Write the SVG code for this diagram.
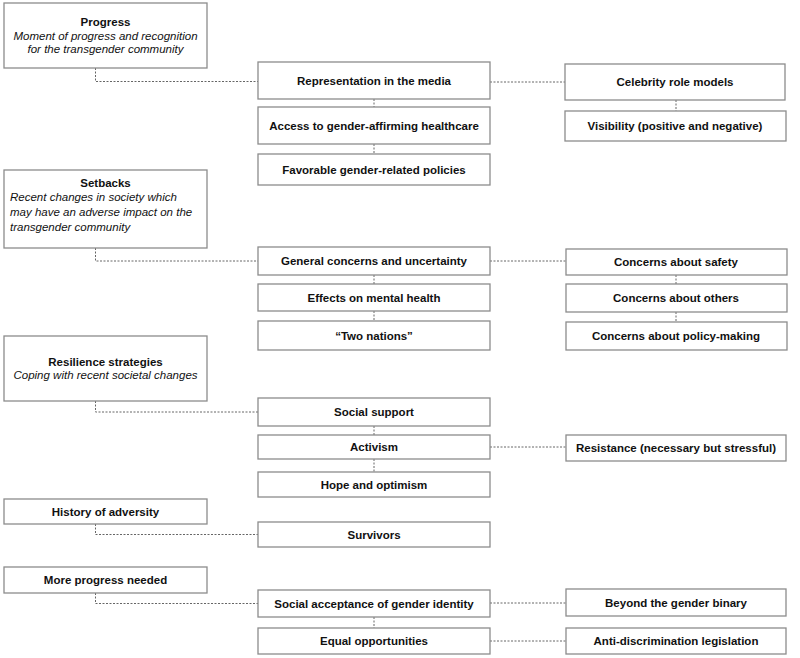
<svg xmlns="http://www.w3.org/2000/svg" width="800" height="658" viewBox="0 0 800 658">
<style>
.box{fill:#fff;stroke:#8c8c8c;stroke-width:1.3}
.t{font-family:"Liberation Sans",Arial,sans-serif;font-size:11.5px;font-weight:bold;fill:#111;text-anchor:middle}
.i{font-family:"Liberation Sans",Arial,sans-serif;font-size:11.5px;font-style:italic;fill:#111;text-anchor:middle}
.il{text-anchor:start}
.c{fill:none;stroke:#666;stroke-width:1;stroke-dasharray:2 1.5}
</style>
<rect width="800" height="658" fill="#fff"/>
<g id="connectors">
<path class="c" d="M95.5 68V81.5H258"/>
<path class="c" d="M490 82H565"/>
<path class="c" d="M374 99V107"/>
<path class="c" d="M374 144V154"/>
<path class="c" d="M676 100V111"/>
<path class="c" d="M95.5 248V261H258"/>
<path class="c" d="M490 261H566"/>
<path class="c" d="M374 275V284"/>
<path class="c" d="M374 311V321"/>
<path class="c" d="M676 275V284"/>
<path class="c" d="M676 312V322"/>
<path class="c" d="M95.5 401V412H258"/>
<path class="c" d="M374 426V435"/>
<path class="c" d="M374 459V472"/>
<path class="c" d="M490 447H566"/>
<path class="c" d="M95.5 524V534.5H258"/>
<path class="c" d="M95.5 593V603.5H258"/>
<path class="c" d="M490 603H566"/>
<path class="c" d="M374 617V628"/>
<path class="c" d="M490 641H566"/>
</g>
<g id="progress"><rect class="box" x="4" y="3" width="203" height="65"/>
<text class="t" x="105.5" y="26">Progress</text>
<text class="i" x="105.5" y="39.5">Moment of progress and recognition</text>
<text class="i" x="105.5" y="53">for the transgender community</text></g>
<g id="representation"><rect class="box" x="258" y="62" width="232" height="37"/><text class="t" x="374" y="85">Representation in the media</text></g>
<g id="access"><rect class="box" x="258" y="107" width="232" height="37"/><text class="t" x="374" y="130">Access to gender-affirming healthcare</text></g>
<g id="favorable"><rect class="box" x="258" y="154" width="232" height="31"/><text class="t" x="374" y="173.5">Favorable gender-related policies</text></g>
<g id="celebrity"><rect class="box" x="565" y="64" width="220" height="36"/><text class="t" x="675" y="86">Celebrity role models</text></g>
<g id="visibility"><rect class="box" x="565" y="111" width="221" height="30"/><text class="t" x="675" y="130">Visibility (positive and negative)</text></g>
<g id="setbacks"><rect class="box" x="4" y="170" width="203" height="78"/>
<text class="t" x="105.5" y="186.5">Setbacks</text>
<text class="i il" x="10" y="201">Recent changes in society which</text>
<text class="i il" x="10" y="216">may have an adverse impact on the</text>
<text class="i il" x="10" y="231">transgender community</text></g>
<g id="general"><rect class="box" x="258" y="247" width="232" height="28"/><text class="t" x="374" y="265">General concerns and uncertainty</text></g>
<g id="effects"><rect class="box" x="258" y="284" width="232" height="27"/><text class="t" x="374" y="302">Effects on mental health</text></g>
<g id="twonations"><rect class="box" x="258" y="321" width="232" height="29"/><text class="t" x="374" y="339.5">“Two nations”</text></g>
<g id="safety"><rect class="box" x="566" y="249" width="221" height="26"/><text class="t" x="676" y="266">Concerns about safety</text></g>
<g id="others"><rect class="box" x="566" y="284" width="221" height="28"/><text class="t" x="676" y="302">Concerns about others</text></g>
<g id="policy"><rect class="box" x="566" y="322" width="221" height="28"/><text class="t" x="676" y="340">Concerns about policy-making</text></g>
<g id="resilience"><rect class="box" x="4" y="336" width="203" height="65"/>
<text class="t" x="105.5" y="366">Resilience strategies</text>
<text class="i" x="105.5" y="379">Coping with recent societal changes</text></g>
<g id="social"><rect class="box" x="258" y="398" width="232" height="28"/><text class="t" x="374" y="416">Social support</text></g>
<g id="activism"><rect class="box" x="258" y="435" width="232" height="24"/><text class="t" x="374" y="451">Activism</text></g>
<g id="hope"><rect class="box" x="258" y="472" width="232" height="25"/><text class="t" x="374" y="488.5">Hope and optimism</text></g>
<g id="resistance"><rect class="box" x="566" y="435" width="220" height="26"/><text class="t" x="676" y="452">Resistance (necessary but stressful)</text></g>
<g id="history"><rect class="box" x="4" y="499" width="203" height="25"/><text class="t" x="105.5" y="515.5">History of adversity</text></g>
<g id="survivors"><rect class="box" x="258" y="522" width="232" height="25"/><text class="t" x="374" y="538.5">Survivors</text></g>
<g id="moreprogress"><rect class="box" x="4" y="567" width="203" height="26"/><text class="t" x="105.5" y="584">More progress needed</text></g>
<g id="acceptance"><rect class="box" x="258" y="590" width="232" height="27"/><text class="t" x="374" y="607.5">Social acceptance of gender identity</text></g>
<g id="equal"><rect class="box" x="258" y="628" width="232" height="26"/><text class="t" x="374" y="645">Equal opportunities</text></g>
<g id="beyond"><rect class="box" x="566" y="589" width="220" height="27"/><text class="t" x="676" y="606.5">Beyond the gender binary</text></g>
<g id="antidiscrimination"><rect class="box" x="566" y="628" width="220" height="26"/><text class="t" x="676" y="645">Anti-discrimination legislation</text></g>
</svg>
